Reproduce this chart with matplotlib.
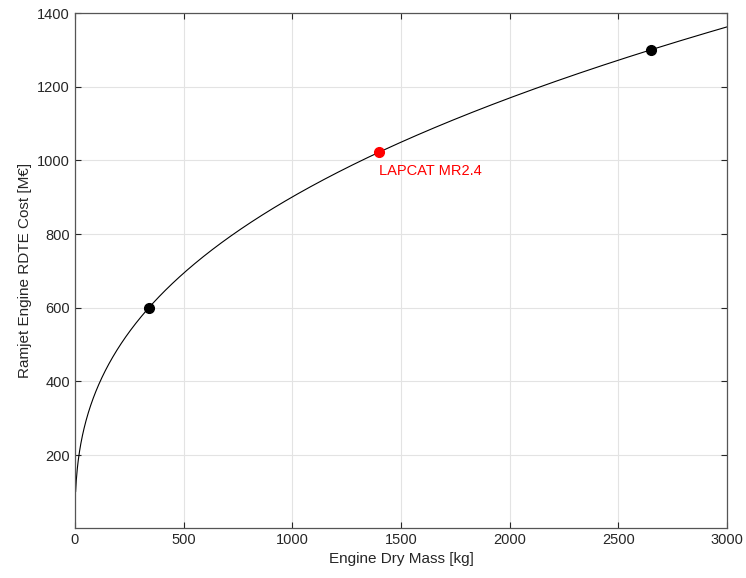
import numpy as np
import matplotlib
matplotlib.use("Agg")
import matplotlib.pyplot as plt

plt.rcParams['font.family'] = ['Liberation Sans', 'DejaVu Sans']

# Power-law cost model: cost = A * mass^B
A = 66.8
B = 0.3766
mass_start = 3
mass_end = 3000

ref_mass = [340, 2650]
ref_cost = [600, 1300]
lapcat_mass = [1400]
lapcat_cost = [1022]
lapcat_label = "LAPCAT MR2.4"

xticks = [0, 500, 1000, 1500, 2000, 2500, 3000]
yticks = [200, 400, 600, 800, 1000, 1200, 1400]

mass = np.linspace(mass_start, mass_end, 2000)
cost = A * mass ** B

fig = plt.figure(figsize=(7.46, 5.78), dpi=100)
ax = fig.add_axes([0.1005, 0.0865, 0.874, 0.891])

ax.plot(mass, cost, color='black', lw=0.8)
ax.plot(ref_mass, ref_cost, 'o', color='black', ms=7)
ax.plot(lapcat_mass, lapcat_cost, 'o', color='red', ms=7)
ax.text(lapcat_mass[0], 970, lapcat_label, color='red', fontsize=10.5,
        ha='left', va='center')

ax.set_xlim(0, 3000)
ax.set_ylim(2, 1400)
ax.set_xticks(xticks)
ax.set_yticks(yticks)
ax.grid(True, color='#e3e3e3', lw=0.8)
ax.set_axisbelow(True)
ax.tick_params(direction='in', top=True, right=True, labelsize=10.5,
               color='#262626', labelcolor='#262626', length=4)
for s in ax.spines.values():
    s.set_color('#555555')
    s.set_linewidth(0.9)

ax.set_xlabel('Engine Dry Mass [kg]', fontsize=11, color='#262626')
ax.set_ylabel('Ramjet Engine RDTE Cost [M€]', fontsize=11, color='#262626')

fig.savefig('out.png', dpi=100)
